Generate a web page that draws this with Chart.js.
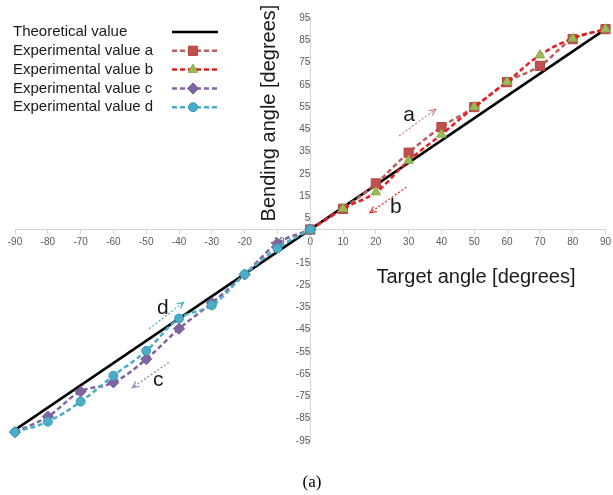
<!DOCTYPE html>
<html>
<head>
<meta charset="utf-8">
<title>Bending angle vs target angle</title>
<script src="https://cdn.jsdelivr.net/npm/chart.js@4.4.1/dist/chart.umd.min.js"></script>
<style>
  html, body { margin: 0; padding: 0; background: #fff; }
  #wrap { width: 613px; height: 495px; }
</style>
</head>
<body>
<div id="wrap"><canvas id="myChart" width="613" height="495"></canvas></div>
<script>
// target angles (x)
const posAngles = [0, 10, 20, 30, 40, 50, 60, 70, 80, 90];
const negAngles = [-90, -80, -70, -60, -50, -40, -30, -20, -10, 0];
const theoAngles = [-90, 90];

// bending angles (y)
const theoValues = [-90, 90];
const valuesA = [0, 9.3, 20.7, 34.5, 46, 55, 66.2, 73.5, 85.5, 90];
const valuesB = [0, 9.3, 16.8, 31, 42.7, 55, 66.3, 78.3, 85.8, 90];
const valuesC = [-91, -84, -72.8, -68.7, -58.2, -44.6, -33, -20.2, -6.3, 0];
const valuesD = [-91, -86.3, -77.3, -65.7, -54.5, -40, -34, -20.2, -8.4, 0];

// tick labels
const xTicks = [-90, -80, -70, -60, -50, -40, -30, -20, -10, 0, 10, 20, 30, 40, 50, 60, 70, 80, 90];
const yTicks = [95, 85, 75, 65, 55, 45, 35, 25, 15, 5, -15, -25, -35, -45, -55, -65, -75, -85, -95];

const legendLabels = ["Theoretical value", "Experimental value a", "Experimental value b",
  "Experimental value c", "Experimental value d"];

// arrows with their letters, in data units: [x1, y1, x2, y2, letterX, letterBaseY, letter]
const notes = [
  [27.1, 42, 38.2, 54, 30.1, 48.7, "a"],
  [29.3, 19, 18.2, 7.5, 26.1, 7.5, "b"],
  [-43.1, -59.7, -54.2, -71, -46.3, -70.5, "c"],
  [-49.1, -44.6, -38.6, -32.7, -44.9, -37.9, "d"]
];
const noteColors = { a: "rgba(192,80,77,0.75)", b: "#e8261f", c: "rgba(128,100,162,0.85)", d: "#4bacc6" };

function pts(xs, ys) {
  return xs.map((x, i) => ({ x: x, y: ys[i] }));
}

const styles = [
  { line: "#000000", dash: [], marker: null, fill: null },
  { line: "#bd5f5c", dash: [5, 3], marker: "rect", fill: "#c0504d", edge: "#b04542", r: 6.5 },
  { line: "#e41e1e", dash: [5, 3], marker: "triangle", fill: "#9bbb59", edge: "#8aaa4a", r: 5.5 },
  { line: "#8064a2", dash: [5, 3], marker: "rectRot", fill: "#8064a2", edge: "#6f5590", r: 5.5 },
  { line: "#4bacc6", dash: [5, 3], marker: "circle", fill: "#4bacc6", edge: "#3a9bb5", r: 4.5 }
];

const seriesData = [
  pts(theoAngles, theoValues),
  pts(posAngles, valuesA),
  pts(posAngles, valuesB),
  pts(negAngles, valuesC),
  pts(negAngles, valuesD)
];

const datasets = seriesData.map((d, i) => {
  const s = styles[i];
  return {
    label: legendLabels[i],
    data: d,
    borderColor: s.line,
    borderWidth: 2.5,
    borderDash: s.dash,
    pointStyle: s.marker || "circle",
    pointRadius: s.marker ? s.r : 0,
    pointBackgroundColor: s.fill || s.line,
    pointBorderColor: s.edge || s.line,
    pointBorderWidth: 1,
    tension: i === 0 ? 0 : 0.4,
    clip: false,
    order: 5 - i
  };
});

function drawMarker(ctx, type, x, y, r, fill, edge) {
  ctx.save();
  ctx.setLineDash([]);
  ctx.fillStyle = fill;
  ctx.strokeStyle = edge;
  ctx.lineWidth = 1;
  ctx.beginPath();
  if (type === "rect") {
    const h = r * Math.SQRT1_2;
    ctx.rect(x - h, y - h, 2 * h, 2 * h);
  } else if (type === "triangle") {
    ctx.moveTo(x, y - r);
    ctx.lineTo(x + r * 0.87, y + r * 0.5);
    ctx.lineTo(x - r * 0.87, y + r * 0.5);
    ctx.closePath();
  } else if (type === "rectRot") {
    ctx.moveTo(x, y - r);
    ctx.lineTo(x + r, y);
    ctx.lineTo(x, y + r);
    ctx.lineTo(x - r, y);
    ctx.closePath();
  } else {
    ctx.arc(x, y, r, 0, Math.PI * 2);
  }
  ctx.fill();
  ctx.stroke();
  ctx.restore();
}

function drawArrow(ctx, x1, y1, x2, y2, color) {
  ctx.save();
  ctx.strokeStyle = color;
  ctx.lineWidth = 1.2;
  ctx.setLineDash([2, 2]);
  ctx.beginPath();
  ctx.moveTo(x1, y1);
  ctx.lineTo(x2, y2);
  ctx.stroke();
  const ang = Math.atan2(y2 - y1, x2 - x1);
  ctx.setLineDash([]);
  ctx.beginPath();
  ctx.moveTo(x2 - 7 * Math.cos(ang - 0.45), y2 - 7 * Math.sin(ang - 0.45));
  ctx.lineTo(x2, y2);
  ctx.lineTo(x2 - 7 * Math.cos(ang + 0.45), y2 - 7 * Math.sin(ang + 0.45));
  ctx.stroke();
  ctx.restore();
}

const overlay = {
  id: "overlay",
  afterDraw(chart) {
    const ctx = chart.ctx;
    const xs = chart.scales.x;
    const ys = chart.scales.y;

    // legend, top left
    ctx.save();
    ctx.font = "15px 'Liberation Sans', Arial, sans-serif";
    ctx.textBaseline = "middle";
    ctx.fillStyle = "#1a1a1a";
    legendLabels.forEach((txt, i) => {
      const y = 32 + i * 18.8;
      ctx.fillText(txt, 13, y);
      const s = styles[i];
      ctx.save();
      ctx.strokeStyle = s.line;
      ctx.lineWidth = 2.5;
      ctx.setLineDash(s.dash);
      ctx.beginPath();
      ctx.moveTo(172, y);
      ctx.lineTo(218, y);
      ctx.stroke();
      ctx.restore();
      if (s.marker) drawMarker(ctx, s.marker, 193, y, s.r, s.fill, s.edge);
    });
    ctx.restore();

    // axis titles
    ctx.save();
    ctx.fillStyle = "#1a1a1a";
    ctx.font = "20px 'Liberation Sans', Arial, sans-serif";
    ctx.textAlign = "center";
    ctx.textBaseline = "middle";
    ctx.fillText("Target angle [degrees]", 476, 277);
    ctx.translate(269, 113);
    ctx.rotate(-Math.PI / 2);
    ctx.fillText("Bending angle [degrees]", 0, 0);
    ctx.restore();

    // direction arrows and letters
    ctx.save();
    ctx.font = "21px 'Liberation Sans', Arial, sans-serif";
    ctx.textAlign = "center";
    ctx.textBaseline = "alphabetic";
    notes.forEach(n => {
      drawArrow(ctx, xs.getPixelForValue(n[0]), ys.getPixelForValue(n[1]),
        xs.getPixelForValue(n[2]), ys.getPixelForValue(n[3]), noteColors[n[6]]);
      ctx.fillStyle = "#1a1a1a";
      ctx.fillText(n[6], xs.getPixelForValue(n[4]), ys.getPixelForValue(n[5]));
    });
    ctx.restore();

    // caption
    ctx.save();
    ctx.fillStyle = "#000";
    ctx.font = "17px 'Liberation Serif', 'Times New Roman', serif";
    ctx.textAlign = "center";
    ctx.textBaseline = "middle";
    ctx.fillText("(a)", 312, 483);
    ctx.restore();
  }
};

const tickFont = { family: "'Liberation Sans', Arial, sans-serif", size: 10 };

// let the layout padding alone decide where the plot area ends
function noEdgePadding(s) {
  s.paddingLeft = 0;
  s.paddingRight = 0;
  s.paddingTop = 0;
  s.paddingBottom = 0;
}

const config = {
  type: "line",
  data: { datasets },
  options: {
    responsive: false,
    animation: false,
    layout: { padding: { left: 15, right: 6, top: 18, bottom: 54 } },
    plugins: {
      legend: { display: false },
      tooltip: { enabled: false }
    },
    scales: {
      x: {
        type: "linear",
        min: -90,
        max: 90,
        position: { y: 0 },
        afterBuildTicks: (s) => { s.ticks = xTicks.map(v => ({ value: v })); },
        afterFit: noEdgePadding,
        grid: { drawOnChartArea: false, drawTicks: true, tickLength: 4, color: "#d4d4d4" },
        border: { color: "#d4d4d4", width: 1 },
        ticks: { font: tickFont, color: "#595959", padding: 3, maxRotation: 0, autoSkip: false }
      },
      y: {
        type: "linear",
        min: -95,
        max: 95,
        position: { x: 0 },
        afterBuildTicks: (s) => { s.ticks = yTicks.map(v => ({ value: v })); },
        afterFit: noEdgePadding,
        grid: { drawOnChartArea: false, drawTicks: true, tickLength: 4, color: "#d4d4d4" },
        border: { color: "#d4d4d4", width: 1 },
        ticks: { font: tickFont, color: "#595959", padding: 4, autoSkip: false }
      }
    }
  },
  plugins: [overlay]
};

const myChart = document.getElementById("myChart");
new Chart(myChart, config);
</script>
</body>
</html>
